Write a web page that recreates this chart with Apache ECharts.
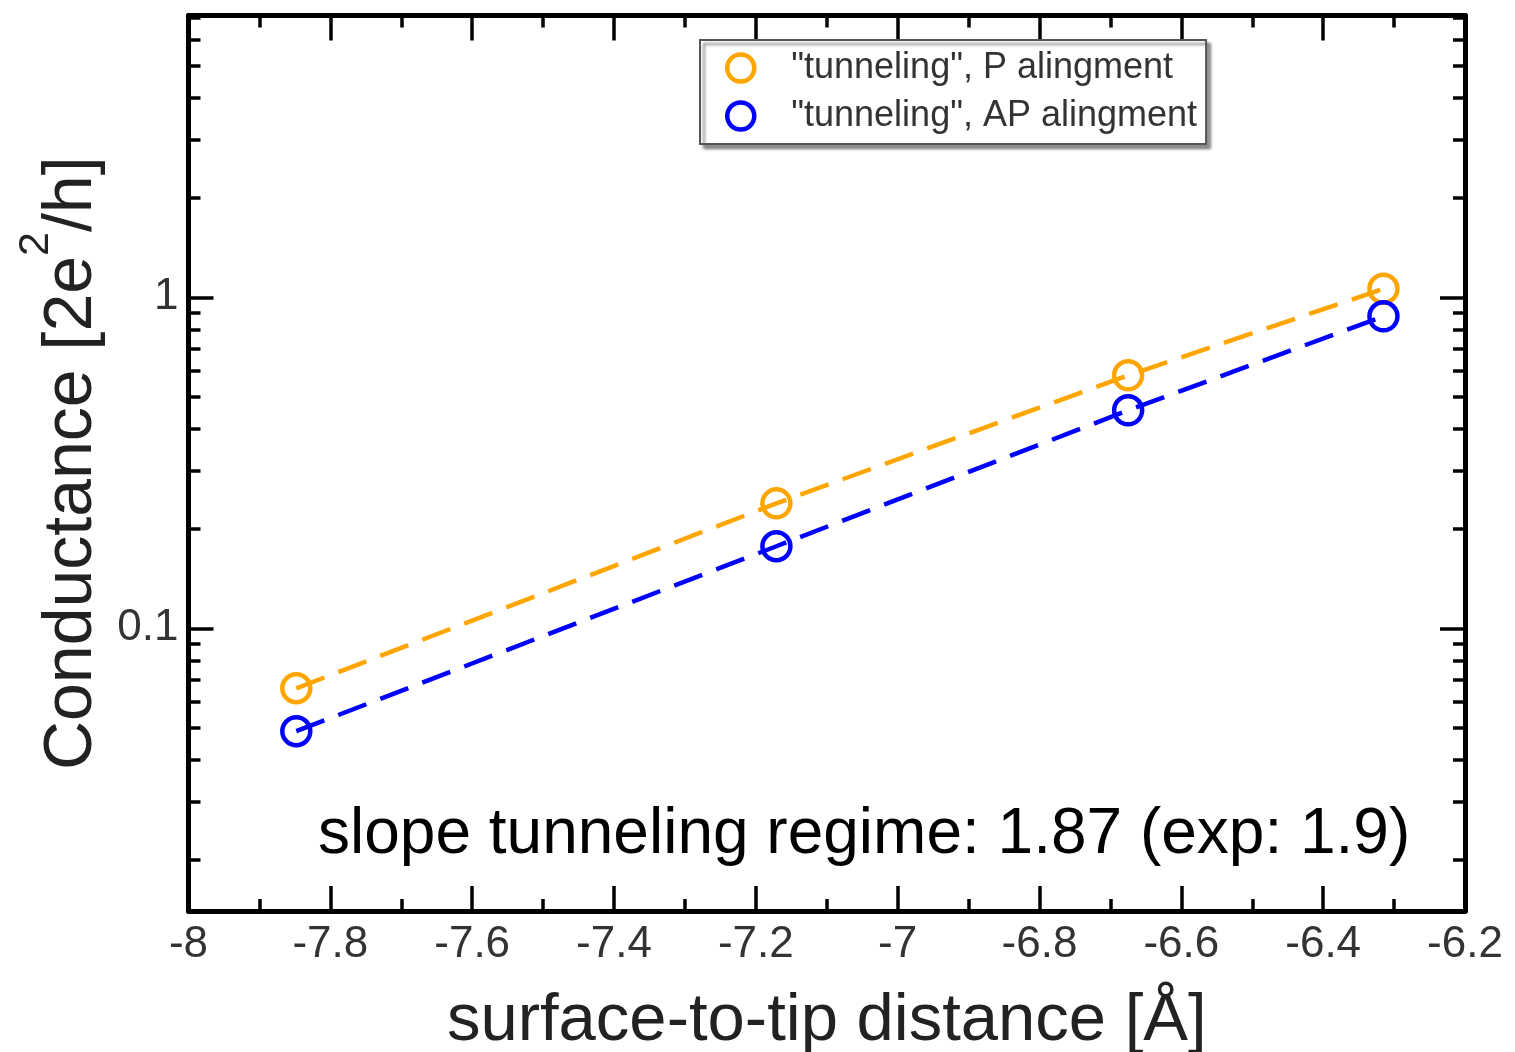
<!DOCTYPE html>
<html>
<head>
<meta charset="utf-8">
<title>Conductance vs surface-to-tip distance</title>
<script src="https://cdn.jsdelivr.net/npm/echarts@6/dist/echarts.min.js"></script>
<style>
  html, body { margin: 0; padding: 0; background: #fff; }
  #chart { width: 1515px; height: 1052px; }
</style>
</head>
<body>
<div id="chart"></div>
<script>
// Surface-to-tip distance in Å
const distances = [-7.848, -7.171, -6.675, -6.315];
// Conductance in units of 2e^2/h
const conductanceP = [0.0659, 0.2385, 0.581, 1.061];
const conductanceAP = [0.0489, 0.177, 0.4555, 0.876];

const seriesNames = ['"tunneling", P alingment', '"tunneling", AP alingment'];
const seriesColors = ['#FFA500', '#0000FF'];

// Axis ranges and tick positions
const xRange = [-8, -6.2];
const xStep = 0.2;
const yRange = [0.014, 7.1];
const yMinorTicks = [0.02, 0.03, 0.04, 0.05, 0.06, 0.07, 0.08, 0.09,
                     0.2, 0.3, 0.4, 0.5, 0.6, 0.7, 0.8, 0.9,
                     2, 3, 4, 5, 6, 7];
const annotation = 'slope tunneling regime: 1.87 (exp: 1.9)';

const FONT = '"Liberation Sans", Arial, Helvetica, sans-serif';
const FRAME = 5;

const chart = echarts.init(document.getElementById('chart'), null, { renderer: 'canvas' });

const frameLine = { show: true, onZero: false, lineStyle: { color: '#000', width: FRAME } };
const majorTick = { show: true, inside: true, length: 25, lineStyle: { color: '#000', width: 3.5 } };
const minorTick = { show: true, splitNumber: 2, length: 12, lineStyle: { color: '#000', width: 3.5 } };

const xBase = {
  type: 'value', min: xRange[0], max: xRange[1], interval: xStep,
  splitLine: { show: false }, axisLine: frameLine,
  axisTick: majorTick, minorTick: minorTick
};

const yLog = (pos, showLabels) => ({
  type: 'log', position: pos, min: yRange[0], max: yRange[1], logBase: 10,
  splitLine: { show: false }, axisLine: frameLine,
  axisTick: majorTick,
  axisLabel: showLabels ? {
    show: true, margin: 10, fontFamily: FONT, fontSize: 44, color: '#333',
    showMinLabel: false, showMaxLabel: false,
    formatter: v => String(+v.toPrecision(6))
  } : { show: false }
});

// Minor ticks at 2..9 of each decade, on a linear axis spanning log10 of the range
const yMinor = pos => ({
  type: 'value', position: pos,
  min: Math.log10(yRange[0]), max: Math.log10(yRange[1]),
  splitLine: { show: false }, axisLine: { show: false }, axisLabel: { show: false },
  axisTick: {
    show: true, inside: true, length: 12, lineStyle: { color: '#000', width: 3.5 },
    customValues: yMinorTicks.map(v => Math.log10(v))
  }
});

const makeSeries = (name, values, color) => ({
  name: name,
  type: 'line',
  xAxisIndex: 0, yAxisIndex: 0,
  data: distances.map((x, i) => [x, values[i]]),
  symbol: 'circle',
  symbolSize: 28,
  itemStyle: { color: 'transparent', borderColor: color, borderWidth: 4.5 },
  lineStyle: { color: color, width: 4.5, type: [30, 15] },
  emphasis: { disabled: true },
  silent: true,
  z: 3
});

chart.setOption({
  animation: false,
  backgroundColor: '#fff',
  grid: { left: 188.5, right: 50, top: 15.5, bottom: 141, containLabel: false, outerBoundsMode: 'none' },
  xAxis: [
    Object.assign({}, xBase, {
      position: 'bottom',
      name: 'surface-to-tip distance [Å]',
      nameLocation: 'middle', nameGap: 77,
      nameTextStyle: { fontFamily: FONT, fontSize: 67, color: '#222' },
      axisLabel: { show: true, margin: 12, fontFamily: FONT, fontSize: 44, color: '#333',
                   formatter: v => String(+v.toFixed(2)) }
    }),
    Object.assign({}, xBase, { position: 'top', axisLabel: { show: false } })
  ],
  yAxis: [
    Object.assign(yLog('left', true), {
      name: '{a|Conductance [2e}{s|2}{a|/h]}',
      nameLocation: 'middle', nameGap: 57,
      nameTextStyle: {
        rich: {
          a: { fontFamily: FONT, fontSize: 68, lineHeight: 115, color: '#222' },
          s: { fontFamily: FONT, fontSize: 43, lineHeight: 43, verticalAlign: 'top', color: '#222' }
        }
      }
    }),
    yLog('right', false),
    yMinor('left'),
    yMinor('right')
  ],
  legend: {
    left: 700, top: 40, orient: 'vertical',
    padding: [10, 9, 10, 25],
    itemGap: 12, itemWidth: 27, itemHeight: 27,
    backgroundColor: '#fff', borderColor: '#555', borderWidth: 2,
    shadowColor: 'rgba(0,0,0,0.45)', shadowBlur: 3, shadowOffsetX: 4, shadowOffsetY: 4,
    selectedMode: false,
    textStyle: { fontFamily: FONT, fontSize: 36, lineHeight: 36, color: '#333', padding: [0, 0, 0, 32] },
    data: seriesNames.map((n, i) => ({
      name: n, icon: 'circle',
      itemStyle: { color: '#fff', borderColor: seriesColors[i], borderWidth: 4.5 }
    }))
  },
  graphic: [{
    type: 'text', x: 318, y: 835, z: 10, silent: true,
    style: { text: annotation, fontFamily: FONT, fontSize: 64, fill: '#000',
             align: 'left', verticalAlign: 'middle' }
  }],
  series: [
    makeSeries(seriesNames[0], conductanceP, seriesColors[0]),
    makeSeries(seriesNames[1], conductanceAP, seriesColors[1])
  ]
});
</script>
</body>
</html>
